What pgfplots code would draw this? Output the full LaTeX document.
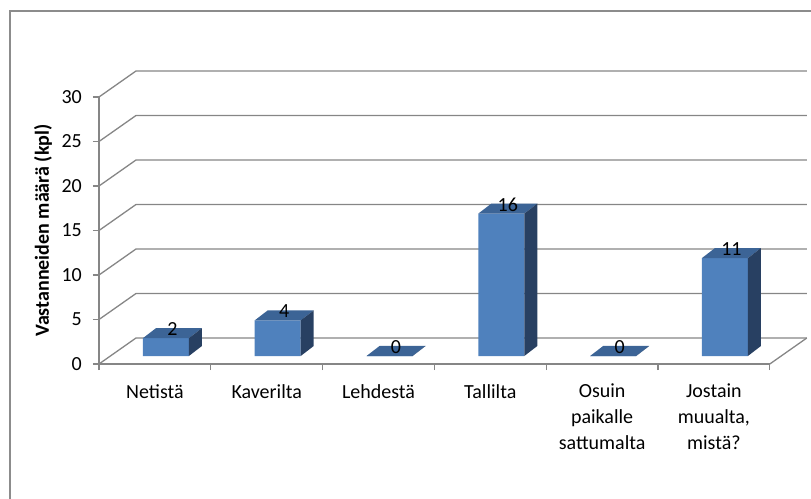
\documentclass[border=0pt]{standalone}
\usepackage{fontspec}
\setmainfont{Carlito}
\usepackage{pgfplots}
\usepackage{pgfplotstable}
\pgfplotsset{compat=1.18}
\definecolor{frontc}{RGB}{79,129,189}
\definecolor{topc}{RGB}{60,100,150}
\definecolor{sidec}{RGB}{40,64,98}
\definecolor{gridc}{RGB}{134,134,134}
\definecolor{framec}{RGB}{140,140,140}

\pgfplotstableread{
x v
0 2
1 4
2 0
3 16
4 0
5 11
}\datatable

% top and side faces of a 3D bar; \val is the bar's value
\pgfdeclareplotmark{box3d}{%
  \pgfmathsetlengthmacro\hh{\val*8.9bp}%
  \pgfpathmoveto{\pgfpoint{-23bp}{0bp}}%
  \pgfpathlineto{\pgfpoint{23bp}{0bp}}%
  \pgfpathlineto{\pgfpoint{36bp}{10bp}}%
  \pgfpathlineto{\pgfpoint{-10bp}{10bp}}%
  \pgfpathclose
  \pgfsetfillcolor{topc}%
  \pgfusepath{fill}%
  \pgfpathmoveto{\pgfpoint{23bp}{0bp}}%
  \pgfpathlineto{\pgfpoint{36bp}{10bp}}%
  \pgfpathlineto{\pgfpoint{36bp}{10bp-\hh}}%
  \pgfpathlineto{\pgfpoint{23bp}{-\hh}}%
  \pgfpathclose
  \pgfsetfillcolor{sidec}%
  \pgfusepath{fill}%
}

\begin{document}
\begin{tikzpicture}
\path[use as bounding box] (-154.9bp,-135bp) rectangle (656.1bp,364bp);
\draw[framec, line width=1.6bp] (-144.9bp,-200bp) -- (-144.9bp,353bp) -- (720bp,353bp);
% front axis with walls and floor
\begin{axis}[
  at={(0,0)}, anchor=origin,
  x=111.8bp, y=8.9bp,
  xmin=-0.5, xmax=5.5, ymin=0, ymax=30,
  axis lines*=left,
  axis line style={gridc, line width=1.3bp},
  tick align=outside,
  tick style={gridc, line width=1.3bp},
  major tick length=6bp,
  ytick={0,5,...,30},
  xtick={-0.5,0.5,1.5,2.5,3.5,4.5,5.5},
  xticklabels={},
  extra x ticks={0,1,2,3,4,5},
  extra x tick labels={Netistä,Kaverilta,Lehdestä,Tallilta,{Osuin\\paikalle\\sattumalta},{Jostain\\muualta,\\mistä?}},
  extra x tick style={major tick length=0pt, tick style={draw=none}},
  clip=false,
  font=\fontsize{20bp}{26bp}\selectfont,
  /pgf/number format/assume math mode=true,
  yticklabel style={inner sep=0pt, xshift=-11bp},
  xticklabel style={align=center, inner sep=0pt, yshift=-20bp},
  every axis y label/.style={at={(rel axis cs:0,0.5)}, xshift=-56bp, rotate=90, anchor=center, font=\bfseries\fontsize{20bp}{26bp}\selectfont},
  ylabel={Vastanneiden määrä (kpl)},
]
\pgfplotsinvokeforeach{0,5,10,15,20,25,30}{
  \draw[gridc, line width=1.3bp] (axis cs:-0.5,#1) -- ++(37bp,26bp) -- ([shift={(37bp,26bp)}]axis cs:5.5,#1);
}
\draw[gridc, line width=1.3bp] (axis cs:5.5,0) -- ++(37bp,26bp);
\end{axis}
% bars
\begin{axis}[
  at={(11bp,8bp)}, anchor=origin,
  x=111.8bp, y=8.9bp,
  xmin=-0.5, xmax=5.5, ymin=0, ymax=30,
  hide axis, clip=false,
  font=\fontsize{20bp}{26bp}\selectfont,
  /pgf/number format/assume math mode=true,
]
\addplot[ybar, bar width=46bp, bar shift=0pt, fill=frontc, draw=none] table[x=x,y=v]{\datatable};
\addplot[only marks, mark=box3d,
  visualization depends on={\thisrow{v} \as \val},
  point meta=\thisrow{v},
  nodes near coords,
  every node near coord/.append style={anchor=center, xshift=6.5bp, yshift=9bp, text=black, inner sep=0pt},
] table[x=x,y=v]{\datatable};
\end{axis}
\end{tikzpicture}
\end{document}
